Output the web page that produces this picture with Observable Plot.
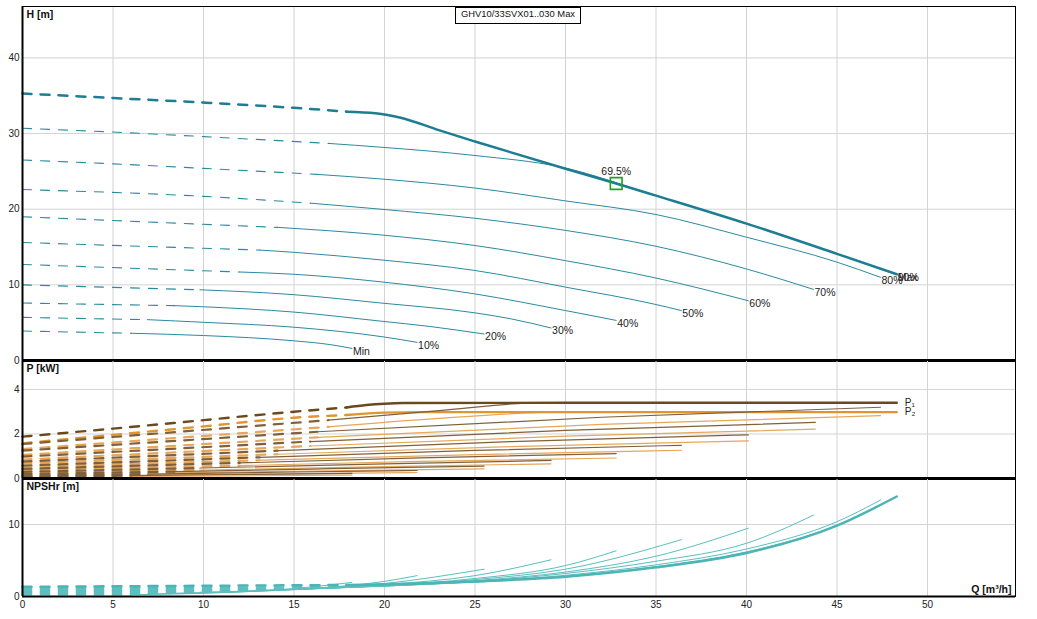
<!DOCTYPE html>
<html>
<head>
<meta charset="utf-8">
<script src="https://cdn.jsdelivr.net/npm/d3@7"></script>
<script src="https://cdn.jsdelivr.net/npm/@observablehq/plot@0.6"></script>
<style>
  body { margin: 0; background: #fff; }
  #chart { position: relative; width: 1037px; height: 619px; overflow: hidden; }
  #chart svg { display: block; overflow: visible; }
  #titulo {
    position: absolute; left: 455px; top: 7px; z-index: 2;
    width: 124px; height: 15px; line-height: 15px; text-align: center;
    font: 9.4px 'Liberation Sans', Arial, sans-serif; color: #111;
    background: #fff; border: 1px solid #000;
  }
</style>
</head>
<body>
<div id="chart"><div id="titulo">GHV10/33SVX01..030 Max</div></div>
<script>
/* velocidades y fin del tramo punteado (Q) */
const velocidades = ["Min", "10%", "20%", "30%", "40%", "50%", "60%", "70%", "80%", "90%", "Max"]
const finDash = [6.0, 6.9, 8.4, 9.8, 12.0, 13.1, 14.1, 15.9, 16.3, 16.9, 17.9]

/* ticks */
const qTicks = [0, 5, 10, 15, 20, 25, 30, 35, 40, 45, 50]
const hTicks = [0, 10, 20, 30, 40]
const pTicks = [0, 2, 4]
const nTicks = [0, 10]

/* H [m] vs Q [m3/h] */
const hMin = [[0, 3.9], [6.0, 3.6], [10, 3.3], [15, 2.6], [17, 2.1], [18.2, 1.6]]
const h10 = [[0, 5.7], [6.9, 5.4], [10, 5.05], [15, 4.4], [20, 3.1], [21.8, 2.4]]
const h20 = [[0, 7.6], [8.4, 7.25], [10, 7.1], [15, 6.4], [19.8, 5.2], [22.5, 4.5], [25.5, 3.5]]
const h30 = [[0, 10.0], [9.8, 9.35], [15, 8.7], [19.8, 7.6], [25, 6.3], [27, 5.5], [29.2, 4.3]]
const h40 = [[0, 12.7], [12.0, 11.7], [15, 11.4], [19.8, 10.4], [25, 8.8], [30, 6.6], [32.8, 5.3]]
const h50 = [[0, 15.6], [13.1, 14.6], [15, 14.3], [19.8, 13.3], [25, 11.9], [30, 9.7], [35, 7.4], [36.4, 6.6]]
const h60 = [[0, 19.0], [14.1, 17.6], [19.8, 16.6], [25, 15.2], [30, 13.2], [35, 10.9], [40.1, 7.9]]
const h70 = [[0, 22.6], [10, 21.7], [15.9, 20.8], [19.8, 20.0], [25, 18.8], [30, 17.2], [35, 15.1], [40, 12.1], [43.7, 9.4]]
const h80 = [[0, 26.5], [5, 26.0], [10, 25.4], [16.3, 24.6], [19.8, 24.0], [25, 22.8], [30, 21.1], [35, 19.3], [40, 16.3], [45, 13.0], [47.4, 11.0]]
const h90 = [[0, 30.7], [5, 30.2], [10, 29.6], [16.9, 28.7], [19.8, 28.2], [25, 27.1], [29.7, 25.6], [35, 21.8], [40, 18.1], [45, 14.1], [48.3, 11.4]]
const hMax = [[0, 35.3], [5, 34.7], [10, 34.1], [15, 33.4], [17.9, 32.9], [19.5, 32.7], [20.9, 32.1], [23, 30.45], [25, 28.95], [30, 25.35], [32.8, 23.4], [35, 21.8], [40, 18.1], [45, 14.1], [48.3, 11.4]]
const alturas = [hMin, h10, h20, h30, h40, h50, h60, h70, h80, h90, hMax]

/* punto de trabajo */
const puntoTrabajo = {q: 32.8, h: 23.4, rendimiento: "69.5%"}

/* P1 [kW] */
const p1Min = [[0, 0.08], [6.0, 0.13], [12, 0.18], [18.2, 0.23]]
const p1_10 = [[0, 0.13], [6.9, 0.20], [14, 0.28], [21.8, 0.36]]
const p1_20 = [[0, 0.20], [8.4, 0.31], [17, 0.44], [25.5, 0.56]]
const p1_30 = [[0, 0.30], [9.8, 0.47], [20, 0.66], [29.2, 0.81]]
const p1_40 = [[0, 0.43], [12.0, 0.70], [22, 0.93], [32.8, 1.12]]
const p1_50 = [[0, 0.58], [13.1, 0.95], [25, 1.26], [36.4, 1.49]]
const p1_60 = [[0, 0.76], [14.1, 1.25], [27, 1.66], [40.1, 1.96]]
const p1_70 = [[0, 0.98], [15.9, 1.66], [30, 2.16], [43.8, 2.52]]
const p1_80 = [[0, 1.25], [16.3, 2.10], [32, 2.75], [47.4, 3.20]]
const p1_90 = [[0, 1.55], [16.9, 2.62], [23, 3.05], [28.6, 3.40], [35, 3.40], [48.3, 3.40]]
const p1Max = [[0, 1.88], [5, 2.24], [10, 2.62], [15, 3.0], [17.9, 3.19], [19, 3.30], [20, 3.36], [21, 3.39], [30, 3.40], [48.3, 3.40]]
const potencias1 = [p1Min, p1_10, p1_20, p1_30, p1_40, p1_50, p1_60, p1_70, p1_80, p1_90, p1Max]

/* P2 [kW] */
const p2Min = [[0, 0.06], [6.0, 0.09], [12, 0.12], [18.2, 0.15]]
const p2_10 = [[0, 0.10], [6.9, 0.15], [14, 0.21], [21.8, 0.27]]
const p2_20 = [[0, 0.17], [8.4, 0.25], [17, 0.34], [25.5, 0.43]]
const p2_30 = [[0, 0.26], [9.8, 0.38], [20, 0.53], [29.2, 0.66]]
const p2_40 = [[0, 0.38], [12.0, 0.58], [22, 0.77], [32.8, 0.92]]
const p2_50 = [[0, 0.52], [13.1, 0.82], [25, 1.07], [36.4, 1.27]]
const p2_60 = [[0, 0.68], [14.1, 1.09], [27, 1.43], [40.1, 1.69]]
const p2_70 = [[0, 0.85], [15.9, 1.46], [30, 1.90], [43.8, 2.22]]
const p2_80 = [[0, 1.06], [16.3, 1.85], [32, 2.43], [47.4, 2.82]]
const p2_90 = [[0, 1.32], [16.9, 2.32], [23, 2.70], [29.7, 2.98], [35, 2.98], [48.3, 2.98]]
const p2Max = [[0, 1.58], [5, 1.96], [10, 2.34], [15, 2.73], [17.9, 2.85], [20, 2.96], [22, 2.98], [30, 2.98], [48.3, 2.98]]
const potencias2 = [p2Min, p2_10, p2_20, p2_30, p2_40, p2_50, p2_60, p2_70, p2_80, p2_90, p2Max]

/* NPSHr [m] */
const nMin = [[0, 0.25], [6.0, 0.25], [10, 0.45], [15, 1.1], [18.2, 1.96]]
const n10 = [[0, 0.35], [6.9, 0.35], [10, 0.5], [15, 1.0], [20, 2.1], [21.8, 2.9]]
const n20 = [[0, 0.45], [8.4, 0.45], [15, 0.95], [20, 1.8], [25.5, 3.8]]
const n30 = [[0, 0.55], [9.8, 0.6], [15, 0.95], [20, 1.65], [25, 2.9], [29.2, 5.1]]
const n40 = [[0, 0.65], [12.0, 0.75], [20, 1.55], [25, 2.5], [30, 4.3], [32.8, 6.35]]
const n50 = [[0, 0.75], [13.1, 0.85], [20, 1.5], [25, 2.35], [30, 3.8], [36.4, 7.9]]
const n60 = [[0, 0.85], [14.1, 0.95], [20, 1.45], [25, 2.2], [30, 3.4], [35, 5.6], [40.1, 9.5]]
const n70 = [[0, 0.95], [15.9, 1.1], [20, 1.45], [25, 2.1], [30, 3.2], [35, 4.9], [40, 7.4], [43.7, 11.3]]
const n80 = [[0, 1.05], [16.3, 1.2], [20, 1.45], [25, 2.05], [30, 2.95], [35, 4.4], [40, 6.6], [45, 10.4], [47.4, 13.4]]
const n90 = [[0, 1.2], [16.9, 1.35], [20, 1.5], [25, 2.0], [30, 2.8], [35, 4.15], [40, 6.2], [45, 9.9], [48.3, 13.9]]
const nMax = [[0, 1.35], [17.9, 1.6], [20, 1.7], [25, 2.1], [30, 2.75], [35, 4.05], [40, 6.05], [45, 9.85], [48.3, 13.9]]
const npsh = [nMin, n10, n20, n30, n40, n50, n60, n70, n80, n90, nMax]

const xDom = [0, 54.86]
const grisGrid = "#d3d3d3"
const estilo = {fontFamily: "'Liberation Sans', Arial, sans-serif", fontSize: "10px", color: "#222", overflow: "visible", background: "transparent"}

/* dibuja cada curva: tramo punteado hasta finDash y tramo continuo */
function curvas(series, color, colorMax, ancho, anchoMax, anchoDash) {
  return series.flatMap((pts, i) => {
    const qd = finDash[i]
    const esMax = i === series.length - 1
    const c = esMax ? colorMax : color
    const w = esMax ? anchoMax : ancho
    return [
      Plot.line(pts.filter(d => d[0] <= qd), {x: d => d[0], y: d => d[1], stroke: c, strokeWidth: esMax ? anchoMax : anchoDash, strokeDasharray: "9,9", curve: "monotone-x"}),
      Plot.line(pts.filter(d => d[0] >= qd), {x: d => d[0], y: d => d[1], stroke: c, strokeWidth: w, curve: "monotone-x"})
    ]
  })
}

function bordes(grosorAbajo) {
  return [
    Plot.frame({stroke: "#000", strokeWidth: 1}),
    Plot.ruleX([0], {stroke: "#000", strokeWidth: 2}),
    Plot.ruleY([0], {stroke: "#000", strokeWidth: grosorAbajo})
  ]
}

const ejeY = t => Plot.axisY(t, {tickSize: 0, tickPadding: 3, label: null, fontSize: 10, fill: "#222"})
const tituloEje = txt => Plot.text([txt], {text: d => d, frameAnchor: "top-left", dx: 4, dy: 4, fontWeight: "bold", fontSize: 10.5, fill: "#111"})

/* etiquetas al final de las curvas H */
const etiquetasH = alturas.map((pts, i) => ({q: pts[pts.length - 1][0], h: pts[pts.length - 1][1], nombre: velocidades[i]}))

let chartH = Plot.plot({
  width: 1037, height: 360, marginTop: 6, marginBottom: 0, marginLeft: 22, marginRight: 22,
  style: estilo,
  x: {domain: xDom, axis: null},
  y: {domain: [0, 46.8], axis: null},
  marks: [
    Plot.gridX(qTicks.slice(1), {stroke: grisGrid, strokeOpacity: 1}),
    Plot.gridY(hTicks.slice(1), {stroke: grisGrid, strokeOpacity: 1}),
    ...curvas(alturas, "#2b8aa0", "#1c7d93", 1, 2.5, 1.1),
    Plot.text(etiquetasH, {x: "q", y: "h", text: "nombre", dx: 1, dy: 3, textAnchor: "start", fontSize: 10.5, fill: "#222"}),
    Plot.dot([puntoTrabajo], {x: "q", y: "h", symbol: "square", r: 6.6, stroke: "#22a022", strokeWidth: 1.6, fill: "none"}),
    Plot.text([puntoTrabajo], {x: "q", y: "h", text: "rendimiento", dy: -12, fontSize: 10.5, fill: "#222"}),
    ejeY(hTicks),
    tituloEje("H [m]"),
    ...bordes(3)
  ]
})

let chartP = Plot.plot({
  width: 1037, height: 118, marginTop: 0, marginBottom: 0, marginLeft: 22, marginRight: 22,
  style: estilo,
  x: {domain: xDom, axis: null},
  y: {domain: [0, 5.3], axis: null},
  marks: [
    Plot.gridX(qTicks.slice(1), {stroke: grisGrid, strokeOpacity: 1}),
    Plot.gridY(pTicks.slice(1), {stroke: grisGrid, strokeOpacity: 1}),
    ...curvas(potencias2, "#e6a75a", "#df962f", 1.2, 2.4, 2.2),
    ...curvas(potencias1, "#80603a", "#6a4a1c", 1.2, 2.4, 2.2),
    Plot.text([{q: 48.3, p: 3.4, t: "P₁"}, {q: 48.3, p: 2.98, t: "P₂"}], {x: "q", y: "p", text: "t", dx: 8, textAnchor: "start", fontSize: 10, fill: "#222"}),
    ejeY(pTicks),
    tituloEje("P [kW]"),
    ...bordes(3)
  ]
})

let chartN = Plot.plot({
  width: 1037, height: 141, marginTop: 0, marginBottom: 23, marginLeft: 22, marginRight: 22,
  style: estilo,
  x: {domain: xDom, axis: null},
  y: {domain: [0, 16.4], axis: null},
  marks: [
    Plot.gridX(qTicks.slice(1), {stroke: grisGrid, strokeOpacity: 1}),
    Plot.gridY(nTicks.slice(1), {stroke: grisGrid, strokeOpacity: 1}),
    ...curvas(npsh, "#5cbebe", "#4bb4b4", 1, 2.5, 1.6),
    ejeY(nTicks),
    Plot.axisX(qTicks, {tickSize: 0, tickPadding: 4, label: null, fontSize: 10, fill: "#222"}),
    tituloEje("NPSHr [m]"),
    Plot.text(["Q [m³/h]"], {text: d => d, frameAnchor: "bottom-right", dx: -4, dy: -4, fontWeight: "bold", fontSize: 10.5, fill: "#111"}),
    ...bordes(2)
  ]
})

d3.select('#chart').append(() => chartH)
d3.select('#chart').append(() => chartP)
d3.select('#chart').append(() => chartN)
</script>
</body>
</html>
